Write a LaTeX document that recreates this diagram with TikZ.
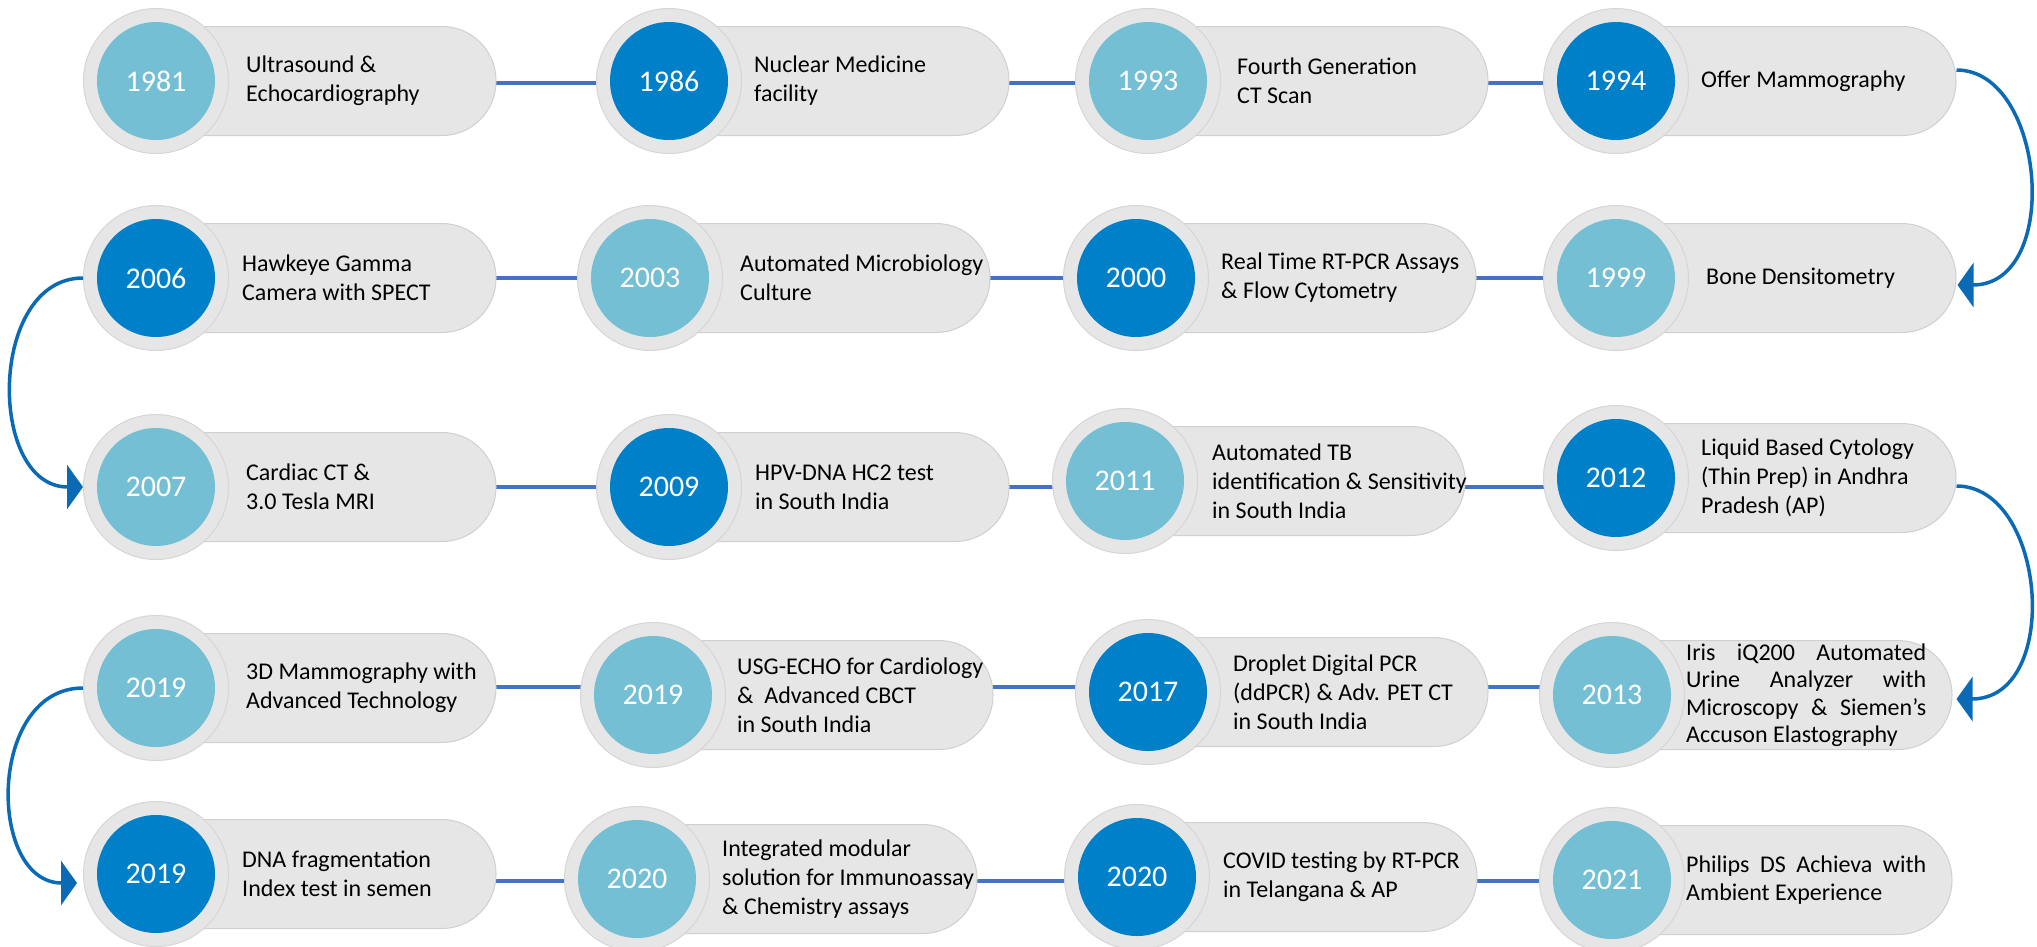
\documentclass[tikz,border=0pt]{standalone}
\usepackage{fontspec}
\setmainfont{Carlito}
\usetikzlibrary{arrows.meta}
\definecolor{lightblue}{HTML}{74BFD4}
\definecolor{darkblue}{HTML}{0080C8}
\definecolor{ringgray}{HTML}{E6E6E6}
\definecolor{ringedge}{HTML}{D6D6D6}
\definecolor{pillgray}{HTML}{E6E6E6}
\definecolor{pilledge}{HTML}{D0D0D0}
\definecolor{connblue}{HTML}{4472C4}
\definecolor{arrowblue}{HTML}{0A6AB6}
\tikzset{
  pill/.style={rectangle, rounded corners=54pt, minimum width=380pt, minimum height=109pt, fill=pillgray, draw=pilledge, line width=1pt, inner sep=0pt},
  ring/.style={circle, minimum size=145pt, fill=ringgray, draw=ringedge, line width=1pt, inner sep=0pt},
  yearlight/.style={circle, minimum size=118pt, fill=lightblue, text=white, inner sep=0pt, font=\fontsize{30}{36}\selectfont},
  yeardark/.style={circle, minimum size=118pt, fill=darkblue, text=white, inner sep=0pt, font=\fontsize{30}{36}\selectfont},
  txt/.style={anchor=west, align=left, inner sep=0pt, text=black, font=\fontsize{24}{29}\selectfont},
  txtj/.style={anchor=west, align=justify, text width=240pt, inner sep=0pt, text=black, font=\fontsize{24}{27.5}\selectfont},
  conn/.style={line width=4.5pt, connblue},
  turnarrow/.style={line width=3.5pt, arrowblue, -{Triangle[length=16pt,width=44pt]}}
}
\newcommand\tlitem[8]{%
  \node[pill] (p#1) at ({#2+150},#3) {};
  \node[ring] (o#1) at (#2,#3) {};
  \node[#4] (y#1) at (#2,#3) {#5};
  \node[#6] (t#1) at ({#2+#7},#3) {#8};
}
\begin{document}
\begin{tikzpicture}[x=1pt,y=-1pt]
\useasboundingbox (0,0) rectangle (2037,946);
\fill[white] (0,0) rectangle (2037,946);
% row line anchors
\coordinate (r1a) at (156,83);  \coordinate (r1b) at (1616,83);
\coordinate (r2a) at (156,278); \coordinate (r2b) at (1616,278);
\coordinate (r3a) at (156,487); \coordinate (r3b) at (1616,487);
\coordinate (r4a) at (156,687); \coordinate (r4b) at (1612,687);
\coordinate (r5a) at (156,881); \coordinate (r5b) at (1612,881);
\draw[conn] (r1a) -- (r1b);
\draw[conn] (r2a) -- (r2b);
\draw[conn] (r3a) -- (r3b);
\draw[conn] (r4a) -- (r4b);
\draw[conn] (r5a) -- (r5b);
% row 1
\tlitem{a1981}{156}{81}{yearlight}{1981}{txt}{90}{Ultrasound \&\\Echocardiography}
\tlitem{a1986}{669}{81}{yeardark}{1986}{txt}{85}{Nuclear Medicine\\facility}
\tlitem{a1993}{1148}{81}{yearlight}{1993}{txt}{89}{Fourth Generation\\CT Scan}
\tlitem{a1994}{1616}{81}{yeardark}{1994}{txt}{85}{Offer Mammography}
% row 2
\tlitem{a2006}{156}{278}{yeardark}{2006}{txt}{86}{Hawkeye Gamma\\Camera with SPECT}
\tlitem{a2003}{650}{278}{yearlight}{2003}{txt}{90}{Automated Microbiology\\Culture}
\tlitem{a2000}{1136}{278}{yeardark}{2000}{txt}{85}{Real Time RT-PCR Assays\\\& Flow Cytometry}
\tlitem{a1999}{1616}{278}{yearlight}{1999}{txt}{90}{Bone Densitometry}
% row 3
\tlitem{a2007}{156}{487}{yearlight}{2007}{txt}{90}{Cardiac CT \&\\3.0 Tesla MRI}
\tlitem{a2009}{669}{487}{yeardark}{2009}{txt}{86}{HPV-DNA HC2 test\\in South India}
\tlitem{a2011}{1125}{481}{yearlight}{2011}{txt}{87}{Automated TB\\identification \& Sensitivity\\in South India}
\tlitem{a2012}{1616}{478}{yeardark}{2012}{txt}{85}{Liquid Based Cytology\\(Thin Prep) in Andhra\\Pradesh (AP)}
% row 4
\tlitem{b2019}{156}{688}{yearlight}{2019}{txt}{90}{3D Mammography with\\Advanced Technology}
\tlitem{c2019}{653}{695}{yearlight}{2019}{txt}{84}{USG-ECHO for Cardiology\\\&\ \ Advanced CBCT\\in South India}
\tlitem{a2017}{1148}{692}{yeardark}{2017}{txt}{85}{Droplet Digital PCR\\(ddPCR) \& Adv. PET CT\\in South India}
\tlitem{a2013}{1612}{695}{yearlight}{2013}{txtj}{74}{Iris iQ200 Automated\linebreak Urine Analyzer with\linebreak Microscopy \& Siemen’s\linebreak Accuson Elastography}
% row 5
\tlitem{d2019}{156}{874}{yeardark}{2019}{txt}{86}{DNA fragmentation\\Index test in semen}
\tlitem{a2020}{637}{879}{yearlight}{2020}{txt}{85}{Integrated modular\\solution for Immunoassay\\\& Chemistry assays}
\tlitem{b2020}{1137}{877}{yeardark}{2020}{txt}{86}{COVID testing by RT-PCR\\in Telangana \& AP}
\tlitem{a2021}{1612}{880}{yearlight}{2021}{txtj}{74}{Philips DS Achieva with\linebreak Ambient Experience}
% curved arrows between rows
\draw[turnarrow] ([yshift=11pt]pa1994.east) .. controls +(89,0) and +(105,0) .. ([xshift=1pt,yshift=-7pt]pa1999.east);
\draw[turnarrow] (oa2006.west) .. controls +(-95,0) and +(-96,0) .. (oa2007.west);
\draw[turnarrow] ([yshift=-8pt]pa2012.east) .. controls +(90,0) and +(106,0) .. ([xshift=4pt,yshift=-4pt]pa2013.east);
\draw[turnarrow] (ob2019.west) .. controls +(-96,0) and +(-90,0) .. ([xshift=-6pt,yshift=-9pt]od2019.west);
\end{tikzpicture}
\end{document}
